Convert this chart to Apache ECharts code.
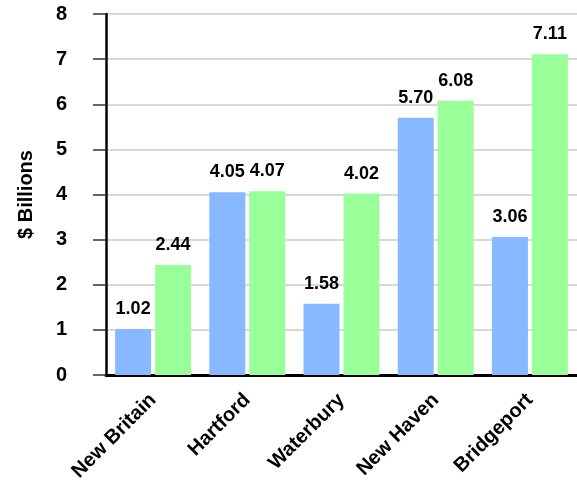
<!DOCTYPE html>
<html><head><meta charset="utf-8">
<script src="https://cdn.jsdelivr.net/npm/echarts@6/dist/echarts.min.js"></script>
<style>html,body{margin:0;padding:0;background:#fff}#c{width:577px;height:489px}</style>
</head><body><div id="c"></div>
<script>
var categories = ["New Britain", "Hartford", "Waterbury", "New Haven", "Bridgeport"];
var seriesA = [1.02, 4.05, 1.58, 5.70, 3.06];
var seriesB = [2.44, 4.07, 4.02, 6.08, 7.11];
var yTicks = [0, 1, 2, 3, 4, 5, 6, 7, 8];

var chart = echarts.init(document.getElementById('c'));
var font = 'Liberation Sans, Arial, sans-serif';
var lbl = {show: true, position: 'top', distance: 11, fontFamily: font, fontWeight: 'bold', fontSize: 18, color: '#000',
  formatter: function(p){ return p.value.toFixed(2); }};
chart.setOption({
  animation: false,
  grid: {left: 106, right: 0, top: 14, bottom: 114},
  xAxis: {
    type: 'category', data: categories,
    axisLine: {lineStyle: {color: '#000', width: 3}},
    axisTick: {alignWithLabel: true, length: 10, lineStyle: {color: '#333', width: 1.5}},
    axisLabel: {rotate: 45, margin: 22, fontFamily: font, fontWeight: 'bold', fontSize: 20, color: '#000'}
  },
  yAxis: {
    type: 'value', min: yTicks[0], max: yTicks[yTicks.length-1], interval: 1,
    name: '$ Billions', nameLocation: 'middle', nameGap: 70, nameRotate: 90,
    nameTextStyle: {fontFamily: font, fontWeight: 'bold', fontSize: 20, color: '#000'},
    axisLine: {show: true, lineStyle: {color: '#000', width: 2.5}},
    axisTick: {show: true, length: 13, lineStyle: {color: '#333', width: 1.5}},
    axisLabel: {margin: 39, fontFamily: font, fontWeight: 'bold', fontSize: 20, color: '#000'},
    splitLine: {lineStyle: {color: '#d9d9d9', width: 2}}
  },
  series: [
    {type: 'bar', data: seriesA, barWidth: 36, barGap: '11%', itemStyle: {color: '#88b8ff'}, label: lbl},
    {type: 'bar', data: seriesB, barWidth: 36, itemStyle: {color: '#99ff99'}, label: lbl}
  ]
});
</script></body></html>
